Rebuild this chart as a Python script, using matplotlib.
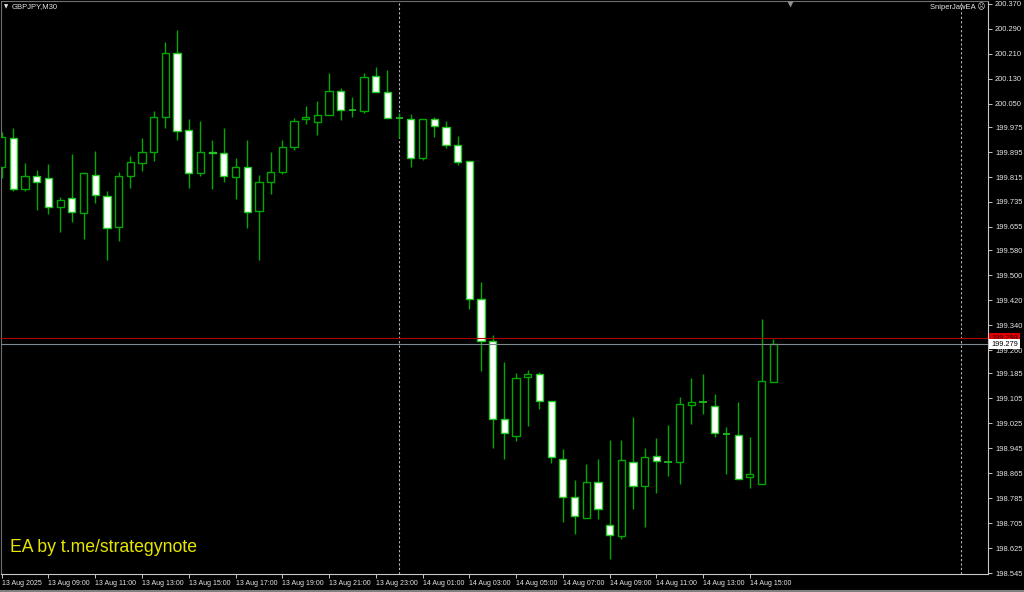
import matplotlib
matplotlib.use("Agg")
import matplotlib.pyplot as plt
from matplotlib.patches import Rectangle
from matplotlib.transforms import blended_transform_factory

# ---------- Data (GBPJPY M30, 13 Aug 07:00 -> 14 Aug 16:00) ----------
opens = [199.847, 199.941, 199.778, 199.818, 199.813, 199.720, 199.749, 199.699, 199.822, 199.755,
         199.654, 199.819, 199.861, 199.896, 200.009, 200.212, 199.965, 199.827, 199.896, 199.893,
         199.816, 199.848, 199.706, 199.800, 199.832, 199.912, 200.000, 199.991, 200.013, 200.091,
         200.029, 200.028, 200.139, 200.089, 200.005, 200.001, 199.877, 200.000, 199.975, 199.918,
         199.867, 199.424, 199.290, 199.038, 198.985, 199.173, 199.183, 199.098, 198.911, 198.788,
         198.721, 198.838, 198.699, 198.665, 198.900, 198.824, 198.921, 198.901, 198.900, 199.084,
         199.095, 199.082, 198.990, 198.988, 198.854, 198.831, 199.157]
highs = [199.960, 199.971, 199.859, 199.838, 199.856, 199.752, 199.888, 199.832, 199.899, 199.770,
         199.832, 199.883, 199.939, 200.027, 200.247, 200.287, 200.001, 199.996, 199.934, 199.973,
         199.875, 199.934, 199.822, 199.896, 199.934, 200.005, 200.043, 200.059, 200.148, 200.100,
         200.073, 200.148, 200.169, 200.158, 200.019, 200.016, 200.001, 200.007, 199.996, 199.947,
         199.867, 199.477, 199.308, 199.221, 199.186, 199.196, 199.189, 199.098, 198.942, 198.843,
         198.895, 198.910, 198.972, 198.972, 199.044, 198.947, 198.977, 199.020, 199.111, 199.170,
         199.183, 199.119, 199.014, 199.093, 198.982, 199.360, 199.296]
lows = [199.812, 199.771, 199.771, 199.709, 199.696, 199.640, 199.670, 199.615, 199.731, 199.549,
        199.611, 199.781, 199.834, 199.866, 199.973, 199.934, 199.779, 199.819, 199.777, 199.798,
        199.745, 199.653, 199.549, 199.760, 199.824, 199.902, 199.984, 199.950, 200.013, 199.998,
        200.009, 200.019, 200.087, 200.003, 199.939, 199.846, 199.870, 199.944, 199.909, 199.854,
        199.391, 199.194, 198.945, 198.910, 198.968, 199.017, 199.070, 198.899, 198.710, 198.670,
        198.721, 198.718, 198.590, 198.654, 198.750, 198.694, 198.803, 198.857, 198.830, 199.022,
        199.055, 198.980, 198.863, 198.847, 198.819, 198.831, 199.157]
closes = [199.943, 199.777, 199.819, 199.800, 199.718, 199.741, 199.702, 199.827, 199.757, 199.651,
          199.819, 199.863, 199.896, 200.007, 200.212, 199.963, 199.827, 199.896, 199.891, 199.819,
          199.848, 199.702, 199.800, 199.832, 199.912, 199.995, 200.007, 200.013, 200.091, 200.030,
          200.029, 200.137, 200.087, 200.003, 200.005, 199.877, 200.001, 199.979, 199.917, 199.863,
          199.424, 199.290, 199.038, 198.993, 199.171, 199.182, 199.097, 198.916, 198.790, 198.728,
          198.836, 198.749, 198.667, 198.907, 198.824, 198.916, 198.904, 198.901, 199.086, 199.094,
          199.095, 198.993, 198.990, 198.847, 198.863, 199.162, 199.279]

time_labels = ["13 Aug 2025", "13 Aug 09:00", "13 Aug 11:00", "13 Aug 13:00", "13 Aug 15:00",
               "13 Aug 17:00", "13 Aug 19:00", "13 Aug 21:00", "13 Aug 23:00", "14 Aug 01:00",
               "14 Aug 03:00", "14 Aug 05:00", "14 Aug 07:00", "14 Aug 09:00", "14 Aug 11:00",
               "14 Aug 13:00", "14 Aug 15:00"]
bars_per_label = 4

price_labels = ["200.370", "200.290", "200.210", "200.130", "200.050", "199.975", "199.895",
                "199.815", "199.735", "199.655", "199.580", "199.500", "199.420", "199.340",
                "199.260", "199.185", "199.105", "199.025", "198.945", "198.865", "198.785",
                "198.705", "198.625", "198.545"]

bid = 199.279
ask = 199.298
day_break_bar = 34          # 14 Aug 00:00
shift_bar = 82.1            # chart shift boundary

symbol = "GBPJPY,M30"
ea_name = "SniperJawEA \u2639"
watermark = "EA by t.me/strategynote"

# ---------- Style ----------
GREEN = "#00a800"
BRIGHT = "#22c822"
AXIS = "#c8c8c8"
TXT = "#e6e6e6"

W, H = 1024, 592
fig = plt.figure(figsize=(W / 100, H / 100), dpi=100, facecolor="black")
ax = fig.add_axes([1 / W, 18 / H, 987 / W, 573 / H], facecolor="black")

body_w = 0.62
for i, (o, h, l, c) in enumerate(zip(opens, highs, lows, closes)):
    ax.vlines(i, l, h, color=GREEN, lw=1.0, zorder=2)
    if abs(c - o) < 0.0015:
        ax.hlines(o, i - body_w / 2, i + body_w / 2, color=BRIGHT, lw=1.2, zorder=3)
    elif c > o:
        ax.add_patch(Rectangle((i - body_w / 2, o), body_w, c - o, facecolor="black",
                               edgecolor=GREEN, lw=1.0, zorder=3))
    else:
        ax.add_patch(Rectangle((i - body_w / 2, c), body_w, o - c, facecolor="white",
                               edgecolor=BRIGHT, lw=1.0, zorder=3))

# separators and price lines
ax.axvline(day_break_bar, color="#b8b8b8", lw=0.8, ls=(0, (2, 2)), zorder=1)
ax.axvline(shift_bar, color="#b8b8b8", lw=0.8, ls=(0, (2, 2)), zorder=1)
ax.axhline(ask, color="#b00000", lw=0.8, zorder=4)
ax.axhline(bid, color="#808890", lw=0.8, zorder=4)

ax.set_xlim(-0.06, 84.37)
ax.set_ylim(198.5418, 200.3796)

# axes / ticks
for s in ["top", "left"]:
    ax.spines[s].set_color("#707070")
for s in ["right", "bottom"]:
    ax.spines[s].set_color(AXIS)
for s in ax.spines.values():
    s.set_linewidth(0.8)

ax.yaxis.tick_right()
ax.set_yticks([float(p) for p in price_labels])
ax.set_yticklabels(price_labels)
ax.tick_params(axis="y", colors=AXIS, labelcolor=TXT, length=3, width=0.7, pad=2,
               labelsize=5.4, direction="out")
ax.set_xticks(range(0, bars_per_label * len(time_labels), bars_per_label))
ax.set_xticklabels(time_labels)
ax.tick_params(axis="x", colors=AXIS, labelcolor=TXT, length=3, width=0.7, pad=1.5,
               labelsize=5.0, direction="out")
for t in ax.get_xticklabels():
    t.set_horizontalalignment("left")
for t in ax.get_xticklabels() + ax.get_yticklabels():
    t.set_fontfamily("Liberation Sans")

# price boxes on the scale
tr = blended_transform_factory(ax.transAxes, ax.transData)
ax.text(1.003, ask, f"{ask:.3f}", transform=tr, fontsize=5.3, color="#300000", va="center",
        ha="left", family="Liberation Sans", zorder=6, clip_on=False,
        bbox=dict(boxstyle="square,pad=0.25", facecolor="#e00000", edgecolor="none"))
ax.text(1.003, bid, f"{bid:.3f}", transform=tr, fontsize=5.3, color="black", va="center",
        ha="left", family="Liberation Sans", zorder=7, clip_on=False,
        bbox=dict(boxstyle="square,pad=0.25", facecolor="white", edgecolor="none"))

# header texts
fig.text(12 / W, 1 - 7 / H, symbol, fontsize=5.5, color=TXT, va="center", ha="left",
         family="Liberation Sans")
fig.text(6 / W, 1 - 7 / H, "\u25bc", fontsize=4, color=TXT, va="center", ha="center")
fig.text(985 / W, 1 - 7 / H, ea_name, fontsize=5.5, color=TXT, va="center", ha="right",
         family=["Liberation Sans", "DejaVu Sans"])
ax.plot([789 / 987], [1 - 3 / 573], marker="v", ms=4, color="#909090", mec="none",
        transform=ax.transAxes, clip_on=False, zorder=6)

ax.text(9 / 987, 1 - 547 / 573, watermark, transform=ax.transAxes, fontsize=12.7,
        color="#e6e600", va="center", ha="left", family="Liberation Sans", zorder=6)

fig.add_artist(plt.Line2D([0, 1], [1.5 / H, 1.5 / H], color="#808080", lw=1.5))

fig.savefig("out.png", dpi=100, facecolor="black")
